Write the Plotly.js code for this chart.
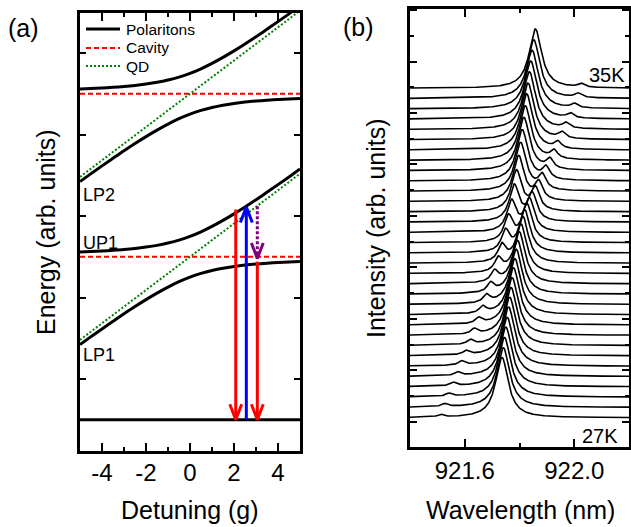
<!DOCTYPE html>
<html><head><meta charset="utf-8">
<script src="https://cdn.plot.ly/plotly-3.0.1.min.js"></script>
<style>html,body{margin:0;padding:0;background:#fff}#chart{width:631px;height:527px}</style>
</head><body><div id="chart"></div>
<script>
// ---------- Panel (a): polariton energies ----------
const detuning = [-5,-4.5,-4,-3.5,-3,-2.5,-2,-1.5,-1,-0.5,0,0.5,1,1.5,2,2.5,3,3.5,4,4.5,5];
const upOffset = [0.058,0.064,0.071,0.079,0.089,0.102,0.119,0.140,0.168,0.204,0.250,0.306,0.372,0.446,0.526,0.611,0.700,0.792,0.885,0.980,1.077];
const lpOffset = [-1.077,-0.980,-0.885,-0.792,-0.700,-0.611,-0.526,-0.446,-0.372,-0.306,-0.250,-0.204,-0.168,-0.140,-0.119,-0.102,-0.089,-0.079,-0.071,-0.064,-0.058];
const cavityLevels = [1.5, 3.5];
const groundLevel = -0.5;
const qdDetuning = [-5, 5];
const qdOffset = [-1.02, 1.02];
const stateLabels = ['LP2', 'UP1', 'LP1'];
const stateLabelE = [2.26, 1.67, 0.29];
const detuningTickVals = [-4, -2, 0, 2, 4];
const detuningTickText = ['-4', '-2', '0', '2', '4'];
const legendNames = ['Polaritons', 'Cavity', 'QD'];
// arrows: detuning position, start energy, end energy
const arrowX = [2.08, 2.56, 3.06, 3.06];
const arrowFrom = [2.08, -0.5, 2.12, 1.44];
const arrowTo = [-0.5, 2.11, 1.48, -0.5];

// ---------- Panel (b): temperature series of spectra (27K bottom -> 35K top) ----------
const tempLabels = ['27K', '35K'];
const peakA = [921.512,921.527,921.543,921.558,921.574,921.589,921.605,921.620,921.635,921.651,921.666,921.680,921.695,921.709,921.723,921.736,921.749,921.760,921.771,921.781,921.789,921.797,921.804,921.810,921.816,921.821,921.826,921.831,921.836,921.841,921.846,921.852,921.858];
const peakB = [921.736,921.741,921.745,921.750,921.755,921.760,921.764,921.769,921.773,921.778,921.783,921.788,921.793,921.799,921.805,921.812,921.819,921.827,921.836,921.847,921.858,921.870,921.883,921.897,921.911,921.926,921.940,921.955,921.970,921.986,922.001,922.014,922.026];
const heightA = [0.05,0.06,0.06,0.07,0.07,0.08,0.08,0.09,0.10,0.11,0.13,0.15,0.18,0.21,0.26,0.32,0.40,0.49,0.59,0.70,0.79,0.88,0.94,0.99,1.03,1.06,1.09,1.10,1.12,1.13,1.14,1.14,1.15];
const heightB = [1.17,1.16,1.16,1.16,1.15,1.15,1.14,1.13,1.12,1.11,1.09,1.07,1.04,1.01,0.96,0.90,0.82,0.73,0.63,0.52,0.43,0.34,0.28,0.23,0.19,0.16,0.13,0.12,0.10,0.09,0.08,0.08,0.07];
const baseline0 = 0.08;
const offsetStep = 0.2;
const widthQD = 0.013;   // nm, HWHM of dot-like line
const widthCav = 0.028;  // nm, HWHM of cavity-like line

// ---------- styles ----------
const FONT = 'Liberation Sans, Arial, Helvetica, sans-serif';
const W = 631, H = 527;
const px = v => v / W, py = v => 1 - v / H;

const traces = [];
// cavity lines
const cx = [], cy = [];
cavityLevels.forEach((c, k) => { if (k) { cx.push(null); cy.push(null); } cx.push(detuning[0], detuning[detuning.length-1]); cy.push(c, c); });
const cavLine = {color: '#FF0000', width: 2, dash: '5px,3px'};
const qdLine = {color: '#008000', width: 2, dash: '2px,2px'};
const polLine = {color: '#000', width: 3};
traces.push({x: cx, y: cy, mode: 'lines', showlegend: false, line: cavLine, hoverinfo: 'skip'});
// QD lines
const qx = [], qy = [];
cavityLevels.forEach((c, k) => { if (k) { qx.push(null); qy.push(null); } qdDetuning.forEach((d, j) => { qx.push(d); qy.push(c + qdOffset[j]); }); });
traces.push({x: qx, y: qy, mode: 'lines', showlegend: false, line: qdLine, hoverinfo: 'skip'});
// polariton branches
const bx = [], by = [];
cavityLevels.forEach((c, k) => {
  [upOffset, lpOffset].forEach((off, j) => {
    if (bx.length) { bx.push(null); by.push(null); }
    detuning.forEach((d, n) => { bx.push(d); by.push(c + off[n]); });
  });
});
traces.push({x: bx, y: by, mode: 'lines', showlegend: false, line: Object.assign({shape: 'spline'}, polLine), hoverinfo: 'skip'});
traces.push({x: [detuning[0], detuning[detuning.length-1]], y: [groundLevel, groundLevel], mode: 'lines', showlegend: false, line: polLine, hoverinfo: 'skip'});
// arrows
const arrowStyle = [
  {color: '#FF0000', dash: 'solid'},
  {color: '#0000FF', dash: 'solid'},
  {color: '#800080', dash: '3px,2px'},
  {color: '#FF0000', dash: 'solid'}
];
const headHalfW = 0.27, headLen = 0.19;
arrowX.forEach((x, k) => {
  const st = arrowStyle[k];
  const dir = arrowTo[k] > arrowFrom[k] ? 1 : -1;
  traces.push({x: [x, x], y: [arrowFrom[k], arrowTo[k]], mode: 'lines', showlegend: false, hoverinfo: 'skip', line: {color: st.color, width: 3, dash: st.dash}});
  const tip = arrowTo[k];
  traces.push({x: [x - headHalfW, x, x + headHalfW], y: [tip - dir*headLen, tip, tip - dir*headLen], mode: 'lines', showlegend: false, hoverinfo: 'skip', line: {color: st.color, width: 3}});
});

// spectra
const wl = [];
for (let k = 0; k <= 400; k++) wl.push(921.4 + k * 0.002);
const lor = (x, c, w) => 1 / (1 + ((x - c) / w) * ((x - c) / w));
const hMax = Math.max(...heightB);
peakA.forEach((cA, i) => {
  const wA = widthQD + (widthCav - widthQD) * Math.min(1, heightA[i] / hMax);
  const wB = widthQD + (widthCav - widthQD) * Math.min(1, heightB[i] / hMax);
  const base = baseline0 + offsetStep * i;
  const y = wl.map(x => base + heightA[i] * lor(x, cA, wA) + heightB[i] * lor(x, peakB[i], wB));
  traces.push({x: wl, y: y, xaxis: 'x2', yaxis: 'y2', mode: 'lines', showlegend: false, hoverinfo: 'skip', line: {color: '#000', width: 1.6}});
});

const annotations = [
  {text: '(a)', x: px(23), y: py(28), size: 25},
  {text: '(b)', x: px(358), y: py(27), size: 25},
  {text: 'Energy (arb. units)', x: px(46), y: py(232), size: 25, angle: -90},
  {text: 'Intensity (arb. units)', x: px(376), y: py(228), size: 25, angle: -90},
  {text: 'Detuning (g)', x: px(190), y: py(510), size: 25},
  {text: 'Wavelength (nm)', x: px(520), y: py(510), size: 25},
  {text: tempLabels[1], x: px(627), y: py(75), size: 20, xanchor: 'right'},
  {text: tempLabels[0], x: px(620), y: py(436), size: 20, xanchor: 'right'}
].map(a => ({text: a.text, x: a.x, y: a.y, xref: 'paper', yref: 'paper', showarrow: false,
  xanchor: a.xanchor || 'center', yanchor: 'middle', textangle: a.angle || 0,
  font: {family: FONT, size: a.size, color: '#000'}}));
stateLabels.forEach((t, k) => annotations.push({text: t, x: detuning[0], y: stateLabelE[k], xref: 'x', yref: 'y',
  showarrow: false, xanchor: 'left', yanchor: 'middle', xshift: 1, font: {family: FONT, size: 18, color: '#000'}}));

// manual legend (tight row spacing as in the figure)
const legendLines = [polLine, cavLine, qdLine];
const legendRowY = [29, 48, 66];
const shapes = [];
legendNames.forEach((n, k) => {
  const ln = legendLines[k];
  shapes.push({type: 'line', xref: 'paper', yref: 'paper', x0: px(86), x1: px(120), y0: py(legendRowY[k]), y1: py(legendRowY[k]),
    line: {color: ln.color, width: ln.width, dash: ln.dash || 'solid'}});
  annotations.push({text: n, x: px(124), y: py(legendRowY[k]), xref: 'paper', yref: 'paper', showarrow: false,
    xanchor: 'left', yanchor: 'middle', font: {family: FONT, size: 15.5, color: '#000'}});
});

const axisBase = {showline: true, linewidth: 3, linecolor: '#000', mirror: 'ticks', showgrid: false, zeroline: false,
  ticks: 'inside', tickwidth: 2, tickcolor: '#000', tickfont: {family: FONT, size: 24, color: '#000'}};

const layout = {
  width: W, height: H, margin: {l: 0, r: 0, t: 0, b: 0}, paper_bgcolor: '#fff', plot_bgcolor: '#fff',
  font: {family: FONT, color: '#000'},
  showlegend: false,
  xaxis: Object.assign({}, axisBase, {domain: [px(80), px(300)], range: [-5, 5], anchor: 'y',
    tickmode: 'array', tickvals: detuningTickVals, ticktext: detuningTickText, ticklen: 8, ticklabelstandoff: -2,
    minor: {tickmode: 'array', tickvals: [-5, -3, -1, 1, 3, 5], ticklen: 4, tickwidth: 2, ticks: 'inside', tickcolor: '#000'}}),
  yaxis: Object.assign({}, axisBase, {domain: [1 - 451/H, 1 - 12.5/H], range: [-0.883, 4.497], anchor: 'x',
    tick0: 0, dtick: 1, ticklen: 6, showticklabels: false}),
  xaxis2: Object.assign({}, axisBase, {domain: [px(410), px(629)], range: [921.4, 922.2], anchor: 'y2',
    tick0: 921.2, dtick: 0.4, tickformat: '.1f', ticklen: 8,
    minor: {tick0: 921.2, dtick: 0.2, ticklen: 4, tickwidth: 2, ticks: 'inside', tickcolor: '#000'}}),
  yaxis2: Object.assign({}, axisBase, {domain: [1 - 447/H, 1 - 9/H], range: [-0.49, 8.02], anchor: 'x2',
    tick0: 0, dtick: 1, ticklen: 7, showticklabels: false,
    minor: {tick0: 0, dtick: 0.5, ticklen: 4, tickwidth: 2, ticks: 'inside', tickcolor: '#000'}}),
  annotations: annotations,
  shapes: shapes
};

Plotly.newPlot('chart', traces, layout, {staticPlot: true, displayModeBar: false});
</script>
</body></html>
